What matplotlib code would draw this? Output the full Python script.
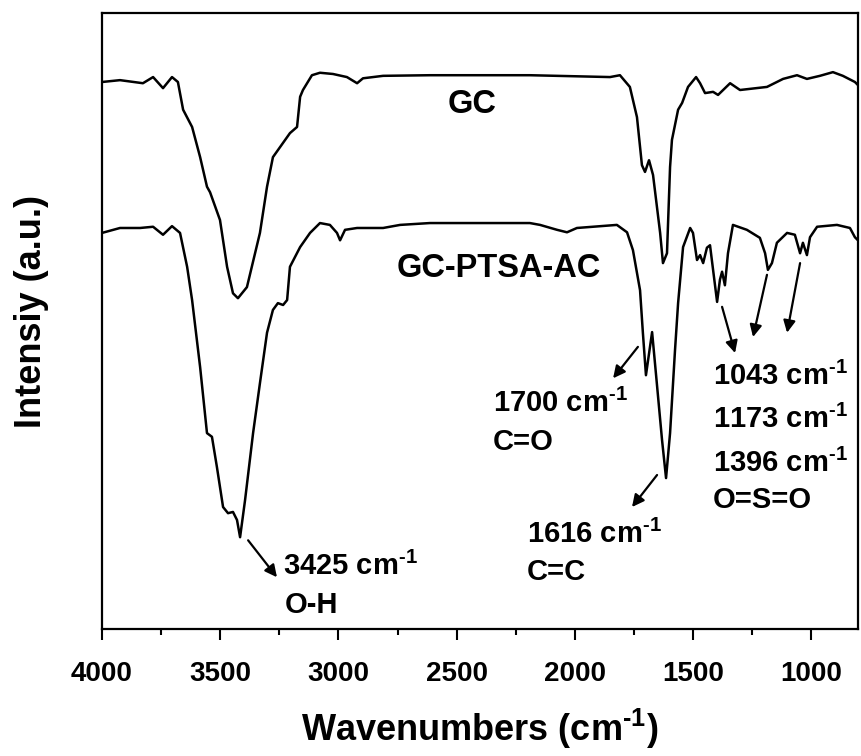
import numpy as np
import matplotlib
matplotlib.use("Agg")
import matplotlib.pyplot as plt
from matplotlib.ticker import MultipleLocator

plt.rcParams['font.family'] = ['Liberation Sans', 'DejaVu Sans']
plt.rcParams['font.weight'] = 'bold'
plt.rcParams['mathtext.fontset'] = 'custom'
plt.rcParams['mathtext.rm'] = 'Liberation Sans:bold'
plt.rcParams['mathtext.it'] = 'Liberation Sans:bold'
plt.rcParams['mathtext.bf'] = 'Liberation Sans:bold'
plt.rcParams['mathtext.default'] = 'rm'

# GC spectrum (wavenumber, intensity a.u.)
gc_wn = [4000, 3924, 3827, 3784, 3742, 3704, 3679, 3657, 3619, 3585, 3556, 3543,
         3501, 3471, 3446, 3425, 3387, 3332, 3302, 3277, 3205, 3175, 3162, 3150,
         3112, 3078, 3023, 2964, 2921, 2896, 2811, 2613, 2190, 1851, 1809, 1767,
         1737, 1716, 1703, 1686, 1669, 1639, 1627, 1610, 1597, 1589, 1563, 1546,
         1521, 1487, 1470, 1449, 1415, 1394, 1343, 1301, 1187, 1119, 1060, 1018,
         963, 908, 866, 815, 802]
gc_int = [88.8, 89.1, 88.6, 89.6, 87.8, 89.6, 88.8, 84.3, 81.5, 76.6, 71.8, 70.9,
          66.4, 58.8, 54.5, 53.7, 55.5, 64.3, 71.8, 76.6, 80.5, 81.5, 86.4, 87.5,
          89.9, 90.3, 90.1, 89.6, 88.6, 89.4, 89.8, 89.9, 89.9, 89.6, 89.9, 88.0,
          83.1, 75.3, 74.2, 76.1, 73.7, 64.3, 59.4, 61.0, 75.0, 79.4, 84.3, 85.4,
          88.0, 89.6, 88.6, 87.0, 87.2, 86.7, 88.6, 87.5, 88.0, 89.3, 89.9, 89.3,
          89.8, 90.4, 89.8, 88.8, 88.3]

# GC-PTSA-AC spectrum
ac_wn = [4000, 3924, 3839, 3784, 3742, 3704, 3670, 3640, 3619, 3585, 3556, 3535,
         3514, 3488, 3467, 3446, 3429, 3416, 3395, 3361, 3332, 3302, 3277, 3256,
         3234, 3217, 3205, 3162, 3120, 3078, 3036, 3006, 2993, 2972, 2921, 2811,
         2739, 2613, 2190, 2147, 2075, 2033, 1991, 1822, 1779, 1754, 1724, 1712,
         1699, 1673, 1653, 1631, 1614, 1597, 1576, 1563, 1542, 1512, 1500, 1483,
         1470, 1457, 1441, 1428, 1415, 1398, 1386, 1377, 1365, 1352, 1331, 1272,
         1217, 1195, 1183, 1166, 1145, 1102, 1069, 1047, 1035, 1018, 1005, 975,
         891, 836, 815, 802]
ac_int = [64.3, 65.1, 65.1, 65.3, 64.0, 65.4, 64.3, 58.8, 53.4, 42.5, 31.8, 31.2,
          26.3, 19.8, 18.8, 19.0, 17.7, 14.9, 20.9, 31.8, 39.9, 48.1, 51.8, 52.9,
          52.6, 53.4, 58.8, 62.0, 64.3, 65.9, 65.6, 64.3, 63.1, 64.8, 65.1, 65.1,
          65.6, 65.9, 65.9, 65.6, 64.8, 64.4, 65.1, 65.6, 64.4, 61.5, 55.0, 48.1,
          41.2, 48.2, 39.9, 30.7, 24.5, 31.8, 45.3, 52.9, 62.0, 65.1, 64.3, 59.9,
          60.7, 59.4, 61.9, 62.3, 58.3, 53.1, 56.7, 58.0, 55.8, 61.0, 65.6, 64.8,
          63.5, 61.0, 58.3, 59.4, 62.7, 64.3, 64.0, 61.0, 62.7, 60.7, 63.6, 65.3,
          65.6, 65.1, 63.6, 63.1]

x_ticks = [4000, 3500, 3000, 2500, 2000, 1500, 1000]

sup = "$^{\\text{-}1}$"
# peak labels: (text, left wavenumber, baseline intensity)
peak_labels = [
    ("3425 cm" + sup, 3234, 8.8), ("O-H", 3228, 2.6),
    ("1700 cm" + sup, 2346, 35.2), ("C=O", 2346, 29.1),
    ("1616 cm" + sup, 2202, 14.0), ("C=C", 2202, 8.0),
    ("1043 cm" + sup, 1415, 39.6), ("1173 cm" + sup, 1415, 32.6),
    ("1396 cm" + sup, 1415, 25.5), ("O=S=O", 1415, 19.6),
]
# arrows: (tail wn, tail int, head wn, head int)
peak_arrows = [
    (3382, 14.4, 3260, 8.4),
    (1733, 45.8, 1838, 40.7),
    (1652, 25.0, 1758, 19.8),
    (1377, 52.3, 1322, 44.8),
    (1187, 57.5, 1246, 47.4),
    (1047, 59.4, 1102, 48.1),
]

fig = plt.figure(figsize=(8.61, 7.56), dpi=100)
ax = fig.add_axes([0.1185, 0.168, 0.878, 0.8148])

ax.plot(gc_wn, gc_int, color='black', lw=1.8)
ax.plot(ac_wn, ac_int, color='black', lw=1.8)

ax.set_xlim(4000, 802)
ax.set_ylim(0, 100)
ax.set_xticks(x_ticks)
ax.xaxis.set_minor_locator(MultipleLocator(250))
ax.set_yticks([])
ax.tick_params(axis='x', which='major', direction='out', length=8, width=1.5,
               labelsize=20, pad=15)
ax.tick_params(axis='x', which='minor', direction='out', length=4, width=1.5)
for s in ax.spines.values():
    s.set_linewidth(1.6)

ax.set_xlabel("Wavenumbers (cm" + sup + ")", fontsize=26, fontweight='bold', labelpad=14)
ax.set_ylabel("Intensiy (a.u.)", fontsize=26, fontweight='bold')
ax.yaxis.set_label_coords(-0.07, 0.515)

ax.text(2435, 83.8, "GC", fontsize=23.5, fontweight='bold', ha='center', va='baseline')
ax.text(2752, 57.1, "GC-PTSA-AC", fontsize=23.5, fontweight='bold', ha='left', va='baseline')

for txt, wx, wy in peak_labels:
    ax.text(wx, wy, txt, fontsize=21, fontweight='bold', ha='left', va='baseline')

for tx, ty, hx, hy in peak_arrows:
    ax.annotate('', xy=(hx, hy), xytext=(tx, ty),
                arrowprops=dict(arrowstyle='-|>', color='black', lw=1.6,
                                mutation_scale=18, shrinkA=0, shrinkB=0))

fig.savefig("out.png", dpi=100)
